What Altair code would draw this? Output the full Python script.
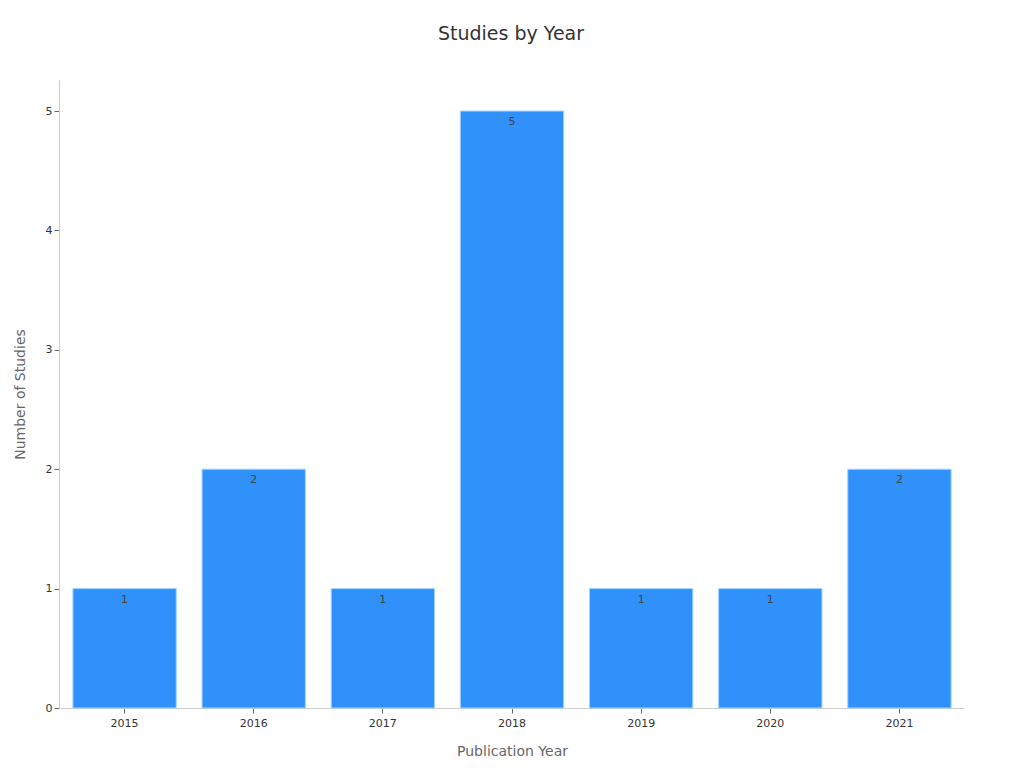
import altair as alt
import pandas as pd

years = ["2015", "2016", "2017", "2018", "2019", "2020", "2021"]
counts = [1, 2, 1, 5, 1, 1, 2]

df = pd.DataFrame({"year": years, "count": counts})

font = "DejaVu Sans"

base = alt.Chart(df).encode(
    x=alt.X("year:N", sort=years,
            scale=alt.Scale(paddingInner=0.2, paddingOuter=0.1, range=[1, 905]),
            axis=alt.Axis(title="Publication Year", labelAngle=0, labelFont=font,
                          labelFontSize=11, labelColor="#333", titleFont=font,
                          titleFontSize=14, titleColor="#666", titleFontWeight="normal",
                          domainColor="#ccc", tickColor="#666", tickSize=5,
                          titlePadding=16, labelPadding=4)),
    y=alt.Y("count:Q", scale=alt.Scale(domain=[0, 5.26], nice=False),
            axis=alt.Axis(title="Number of Studies", values=[0, 1, 2, 3, 4, 5],
                          grid=False, labelFont=font, labelFontSize=11,
                          labelColor="#333", titleFont=font, titleFontSize=14,
                          titleColor="#666", titleFontWeight="normal",
                          domainColor="#ccc", tickColor="#666", tickSize=5,
                          titlePadding=18)),
)

bars = base.mark_bar(color="#2f91f9", stroke="#9fd4ff", strokeWidth=1)
labels = base.mark_text(baseline="top", dy=5, font=font, fontSize=11, color="#444").encode(
    text="count:Q")

chart = (bars + labels).properties(
    width=904, height=628,
    title=alt.TitleParams("Studies by Year", font=font, fontSize=19,
                          fontWeight="normal", color="#333", offset=36, anchor="middle"),
    autosize=alt.AutoSizeParams(type="none"),
    padding={"left": 51, "top": 72, "right": 50, "bottom": 60},
).configure_view(stroke=None)

chart.save("out.html", embed_options={"renderer": "svg", "actions": False})
